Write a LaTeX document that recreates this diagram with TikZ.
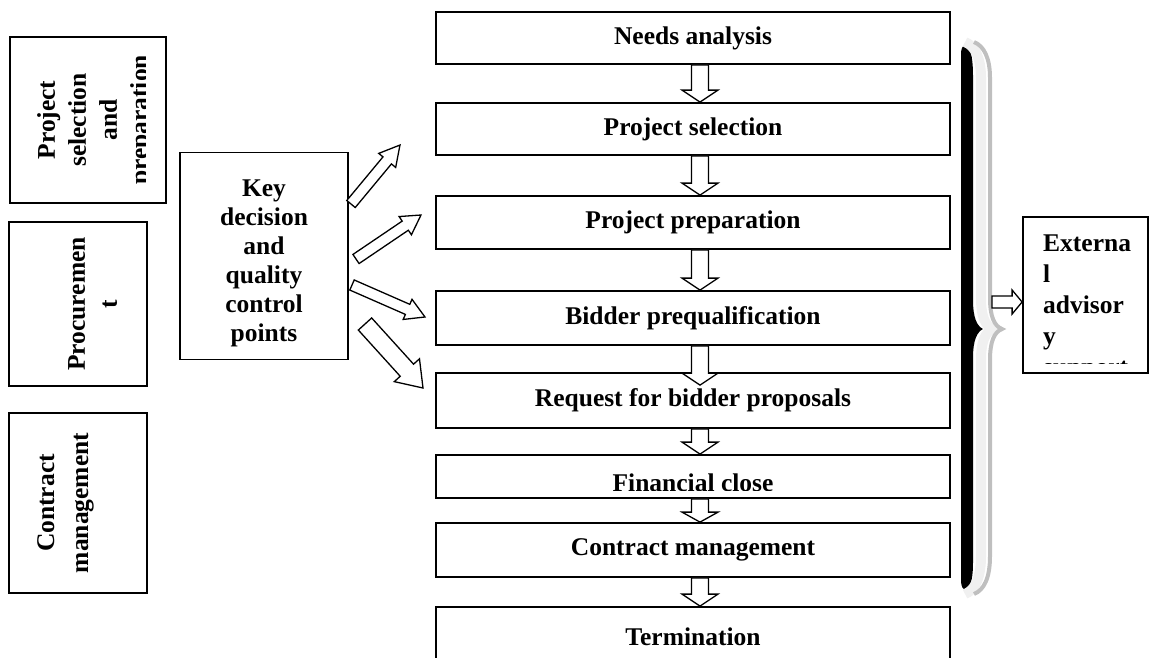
\documentclass[tikz,border=0pt]{standalone}
\usepackage{fontspec}
\setmainfont{Liberation Serif}
\usetikzlibrary{calc}

\tikzstyle{box}=[draw, rectangle, line width=1.8pt, inner sep=0pt]
\tikzstyle{lbl}=[font=\bfseries\fontsize{25.5}{31}\selectfont, inner sep=0pt]
\tikzstyle{barrow}=[draw, fill=white, line width=1.3pt, line join=miter]

% hollow block arrow: from, to, half shaft, half head, head length
\newcommand{\blockarrow}[5]{%
  \path[barrow] let \p1=(#1), \p2=(#2),
    \n1={atan2(\y2-\y1,\x2-\x1)}, \n2={veclen(\x2-\x1,\y2-\y1)} in
    [shift={(\p1)}, rotate=\n1]
    (0,-#3) -- (\n2-#5,-#3) -- (\n2-#5,-#4) -- (\n2,0)
    -- (\n2-#5,#4) -- (\n2-#5,#3) -- (0,#3) -- cycle;
}

\begin{document}
\begin{tikzpicture}[x=1pt,y=-1pt]
  \useasboundingbox (0,0) rectangle (1150,657);
  \clip (0,0) rectangle (1150,657);

  % phases
  \node[box, minimum width=156, minimum height=166] (psp) at (88,120) {};
  \node[box, minimum width=138, minimum height=164] (proc) at (78,304) {};
  \node[box, minimum width=138, minimum height=180] (cman) at (78,503) {};
  \begin{scope}
    \clip (10,37) rectangle (145,203);
    \node[lbl, rotate=90, anchor=north, align=center] (psptxt) at (37,120) {Project\\selection\\and\\preparation};
  \end{scope}
  \node[lbl, rotate=90, anchor=north, align=center, font=\bfseries\fontsize{25.5}{32}\selectfont] (proctxt) at (68,304) {Procuremen\\t};
  \node[lbl, rotate=90, anchor=north, align=center, font=\bfseries\fontsize{25.5}{34}\selectfont] (cmantxt) at (37,503) {Contract\\management};

  \node[box, minimum width=168, minimum height=207, line width=1.4pt] (key) at (264,256) {};
  \node[lbl, align=center, font=\bfseries\fontsize{25.5}{29}\selectfont] (keytxt) at (264,263) {Key\\decision\\and\\quality\\control\\points};

  % stages
  \node[box, lbl, minimum width=514, minimum height=52] (needs) at (693,38) {Needs analysis};
  \node[box, lbl, minimum width=514, minimum height=52] (sel) at (693,129) {Project selection};
  \node[box, lbl, minimum width=514, minimum height=53] (prep) at (693,222.5) {Project preparation};
  \node[box, lbl, minimum width=514, minimum height=54] (bid) at (693,318) {Bidder prequalification};
  \node[box, lbl, minimum width=514, minimum height=55] (req) at (693,400.5) {Request for bidder proposals};
  \node[box, minimum width=514, minimum height=43] (fin) at (693,476.5) {};
  \begin{scope}
    \clip (436,455) rectangle (950,490);
    \node[lbl] (fintxt) at (693,483) {Financial close};
  \end{scope}
  \node[box, lbl, minimum width=514, minimum height=54] (cm) at (693,550) {Contract management};
  \node[box, minimum width=514, minimum height=60] (term) at (693,637) {};
  \node[lbl] (termtxt) at (693,637) {Termination};

  \node[box, minimum width=125, minimum height=156] (ext) at (1085.5,295) {};
  \begin{scope}
    \clip (1023,217) rectangle (1148,363);
    \node[lbl, anchor=north west, align=left] (exttxt) at (1043,235) {Externa\\l\\advisor\\y\\support};
  \end{scope}

  % brace
  \fill[black] (961,52) .. controls (962,47) .. (966,44) .. controls (972,50) and (973,62) .. (973,78)
    -- (973,300) .. controls (973,318) and (977,326) .. (983,329) .. controls (977,332) and (973,340) .. (973,358)
    -- (973,560) .. controls (973,576) and (972,584) .. (966,590) .. controls (962,588) .. (961,582) -- cycle;
  \def\bracecurve{(968,42) .. controls (978,46) and (984,58) .. (984,78) -- (984,298)
    .. controls (984,316) and (988,326) .. (996,329) .. controls (988,332) and (984,342) .. (984,360)
    -- (984,556) .. controls (984,578) and (978,590) .. (968,594)}
  \draw[gray!12, line width=10pt, xshift=-3] \bracecurve;
  \draw[gray!50, line width=4pt, xshift=6] \bracecurve;

  % arrows
  \coordinate (ax) at (700,0);
  \blockarrow{needs.south -| ax}{sel.north -| ax}{8.5}{18}{12}
  \blockarrow{sel.south -| ax}{prep.north -| ax}{8.5}{18}{12}
  \blockarrow{prep.south -| ax}{bid.north -| ax}{8.5}{18}{12}
  \blockarrow{bid.south -| ax}{$(req.north -| ax)+(0,13)$}{8.5}{18}{12}
  \blockarrow{req.south -| ax}{fin.north -| ax}{8.5}{18}{12}
  \blockarrow{fin.south -| ax}{cm.north -| ax}{8.5}{18}{10}
  \blockarrow{cm.south -| ax}{term.north -| ax}{8.5}{18}{12}

  \coordinate (k1) at (351,204);
  \coordinate (k2) at (356,259);
  \coordinate (k3) at (352,285);
  \coordinate (k4) at (365,324);
  \coordinate (d1) at (400,145);
  \coordinate (d2) at (421,215);
  \coordinate (d3) at (425,317);
  \coordinate (d4) at (423,388);
  \blockarrow{k1}{d1}{5.5}{11}{20}
  \blockarrow{k2}{d2}{5.5}{11}{19}
  \blockarrow{k3}{d3}{5.5}{11}{19}
  \blockarrow{k4}{d4}{9}{17}{24}

  \coordinate (brtip) at (992,302);
  \blockarrow{brtip}{ext.west |- brtip}{6}{12}{10}
\end{tikzpicture}
\end{document}
